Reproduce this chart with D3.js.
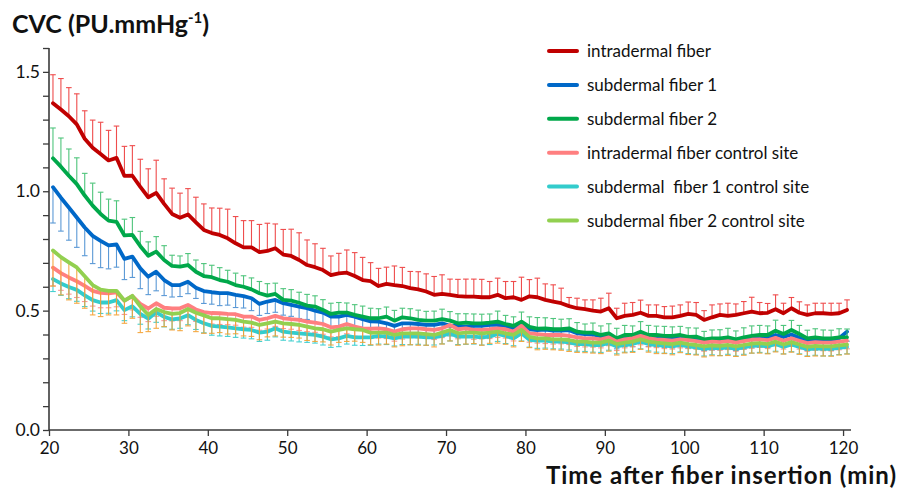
<!DOCTYPE html>
<html><head><meta charset="utf-8">
<script src="https://cdn.jsdelivr.net/npm/d3@7/dist/d3.min.js"></script>
<style>
html,body{margin:0;padding:0;background:#fff;}
svg{display:block;}
text{font-family:"Lato","Open Sans",sans-serif;fill:#111;}
</style></head>
<body>
<svg id="chart" width="899" height="490"></svg>
<script>
// ---------- data ----------
const seriesNames = ["intradermal fiber","subdermal fiber 1","subdermal fiber 2",
  "intradermal fiber control site","subdermal  fiber 1 control site","subdermal fiber 2 control site"];
const xTicks = [20,30,40,50,60,70,80,90,100,110,120];
const yTickLabels = ["0.0","0.5","1.0","1.5"];
const minutes = d3.range(20.5, 121, 1); // one sample per minute

const intradermal = [1.369,1.342,1.314,1.280,1.220,1.182,1.156,1.129,1.140,1.064,
 1.065,1.018,0.975,0.993,0.947,0.905,0.889,0.903,0.870,0.838,
 0.825,0.817,0.803,0.782,0.765,0.765,0.745,0.750,0.761,0.735,
 0.729,0.712,0.691,0.682,0.670,0.649,0.656,0.659,0.645,0.628,
 0.624,0.603,0.612,0.607,0.603,0.594,0.589,0.580,0.566,0.570,
 0.566,0.561,0.559,0.559,0.556,0.556,0.566,0.552,0.556,0.545,
 0.560,0.556,0.545,0.538,0.531,0.519,0.510,0.506,0.500,0.496,
 0.510,0.468,0.478,0.482,0.491,0.478,0.478,0.472,0.472,0.478,
 0.486,0.482,0.461,0.472,0.482,0.478,0.482,0.489,0.496,0.489,
 0.491,0.506,0.489,0.510,0.491,0.482,0.489,0.489,0.486,0.489,0.503];
const intradermalErr = [0.119,0.130,0.120,0.128,0.117,0.116,0.133,0.126,0.133,0.124,
 0.126,0.116,0.119,0.137,0.105,0.108,0.103,0.108,0.105,0.109,
 0.105,0.112,0.122,0.112,0.112,0.112,0.116,0.116,0.102,0.105,
 0.112,0.114,0.105,0.098,0.091,0.080,0.084,0.095,0.098,0.095,
 0.077,0.074,0.070,0.080,0.078,0.070,0.074,0.074,0.077,0.080,
 0.066,0.070,0.073,0.073,0.075,0.066,0.070,0.070,0.066,0.095,
 0.070,0.080,0.067,0.070,0.063,0.036,0.042,0.039,0.045,0.056,
 0.063,0.042,0.053,0.052,0.053,0.046,0.046,0.045,0.047,0.046,
 0.050,0.052,0.039,0.052,0.046,0.053,0.046,0.049,0.060,0.045,
 0.039,0.060,0.042,0.045,0.046,0.042,0.042,0.042,0.045,0.042,0.042];

const subdermal1 = [1.017,0.973,0.932,0.890,0.848,0.813,0.792,0.773,0.777,0.717,
 0.726,0.677,0.642,0.663,0.628,0.607,0.607,0.621,0.596,0.582,
 0.577,0.573,0.573,0.566,0.561,0.552,0.528,0.538,0.545,0.531,
 0.524,0.517,0.510,0.500,0.492,0.475,0.475,0.482,0.475,0.464,
 0.455,0.454,0.447,0.436,0.447,0.447,0.444,0.440,0.440,0.447,
 0.436,0.436,0.433,0.436,0.436,0.440,0.440,0.433,0.426,0.444,
 0.422,0.418,0.420,0.416,0.416,0.418,0.405,0.402,0.400,0.392,
 0.398,0.380,0.390,0.392,0.404,0.392,0.390,0.386,0.386,0.390,
 0.382,0.384,0.372,0.376,0.378,0.380,0.372,0.380,0.384,0.388,
 0.386,0.398,0.390,0.400,0.386,0.372,0.376,0.374,0.372,0.384,0.412];
const subdermal1Err = [0.150,0.140,0.137,0.125,0.118,0.116,0.112,0.098,0.095,0.087,
 0.087,0.085,0.075,0.080,0.065,0.050,0.048,0.050,0.045,0.052,
 0.050,0.052,0.050,0.053,0.050,0.052,0.048,0.050,0.052,0.050,
 0.048,0.050,0.047,0.050,0.048,0.046,0.048,0.045,0.047,0.045,
 0.044,0.043,0.045,0.042,0.044,0.043,0.042,0.044,0.043,0.042,
 0.042,0.044,0.041,0.043,0.042,0.040,0.043,0.041,0.042,0.044,
 0.041,0.043,0.040,0.042,0.041,0.043,0.040,0.042,0.041,0.040,
 0.042,0.040,0.041,0.043,0.040,0.042,0.041,0.040,0.042,0.041,
 0.040,0.042,0.039,0.041,0.040,0.042,0.039,0.041,0.040,0.042,
 0.040,0.041,0.039,0.042,0.040,0.039,0.041,0.040,0.039,0.040,0.040];

const subdermal2 = [1.138,1.103,1.065,1.030,0.982,0.940,0.905,0.877,0.872,0.815,
 0.817,0.770,0.730,0.747,0.712,0.687,0.684,0.691,0.663,0.645,
 0.640,0.628,0.621,0.607,0.600,0.589,0.573,0.563,0.570,0.545,
 0.542,0.533,0.521,0.517,0.503,0.486,0.492,0.492,0.482,0.475,
 0.468,0.468,0.475,0.458,0.472,0.468,0.461,0.458,0.458,0.464,
 0.458,0.447,0.450,0.447,0.447,0.450,0.454,0.444,0.436,0.454,
 0.432,0.425,0.426,0.422,0.422,0.426,0.412,0.408,0.408,0.398,
 0.405,0.384,0.398,0.398,0.412,0.398,0.398,0.394,0.394,0.398,
 0.390,0.391,0.380,0.384,0.384,0.388,0.380,0.388,0.394,0.398,
 0.398,0.416,0.402,0.419,0.402,0.384,0.388,0.384,0.384,0.388,0.388];
const subdermal2Err = [0.127,0.120,0.112,0.110,0.093,0.094,0.091,0.090,0.088,0.068,
 0.073,0.062,0.058,0.063,0.060,0.045,0.045,0.048,0.049,0.052,
 0.050,0.052,0.048,0.050,0.046,0.048,0.049,0.050,0.045,0.047,
 0.046,0.044,0.047,0.045,0.043,0.045,0.042,0.040,0.043,0.044,
 0.042,0.040,0.040,0.043,0.038,0.040,0.041,0.039,0.040,0.042,
 0.038,0.040,0.037,0.039,0.038,0.036,0.044,0.036,0.038,0.040,
 0.042,0.046,0.044,0.045,0.042,0.040,0.038,0.036,0.040,0.038,
 0.040,0.042,0.040,0.038,0.042,0.040,0.037,0.040,0.038,0.036,
 0.038,0.036,0.033,0.035,0.036,0.038,0.035,0.040,0.042,0.040,
 0.038,0.044,0.036,0.040,0.036,0.034,0.036,0.035,0.034,0.036,0.035];

const intradermalCtrl = [0.680,0.657,0.639,0.623,0.604,0.583,0.574,0.572,0.576,0.542,
 0.561,0.528,0.509,0.531,0.512,0.509,0.510,0.524,0.505,0.494,
 0.490,0.489,0.486,0.485,0.475,0.475,0.461,0.468,0.478,0.468,
 0.464,0.461,0.454,0.450,0.444,0.430,0.433,0.444,0.433,0.426,
 0.424,0.426,0.422,0.412,0.422,0.426,0.426,0.422,0.419,0.426,
 0.440,0.422,0.426,0.419,0.419,0.422,0.426,0.422,0.412,0.436,
 0.405,0.402,0.398,0.398,0.398,0.394,0.388,0.384,0.384,0.380,
 0.388,0.370,0.380,0.384,0.394,0.384,0.380,0.377,0.374,0.380,
 0.376,0.372,0.366,0.370,0.368,0.372,0.366,0.372,0.378,0.380,
 0.376,0.386,0.374,0.384,0.374,0.364,0.368,0.366,0.366,0.370,0.374];
const intradermalCtrlErr = [0.077,0.072,0.070,0.068,0.066,0.064,0.062,0.060,0.060,0.058,
 0.058,0.056,0.055,0.055,0.054,0.052,0.052,0.050,0.050,0.048,
 0.046,0.047,0.045,0.046,0.044,0.045,0.043,0.045,0.044,0.043,
 0.042,0.044,0.042,0.041,0.043,0.040,0.042,0.041,0.040,0.042,
 0.040,0.041,0.039,0.040,0.041,0.039,0.040,0.038,0.040,0.039,
 0.038,0.040,0.038,0.039,0.037,0.039,0.038,0.037,0.039,0.038,
 0.037,0.038,0.036,0.038,0.037,0.036,0.038,0.036,0.037,0.036,
 0.035,0.037,0.036,0.035,0.037,0.036,0.035,0.036,0.035,0.036,
 0.035,0.034,0.036,0.035,0.034,0.035,0.036,0.034,0.035,0.034,
 0.035,0.034,0.035,0.034,0.035,0.034,0.033,0.034,0.035,0.034,0.034];

const subdermal1Ctrl = [0.632,0.614,0.599,0.587,0.564,0.544,0.534,0.534,0.544,0.502,
 0.518,0.486,0.466,0.493,0.474,0.463,0.467,0.481,0.461,0.447,
 0.436,0.433,0.430,0.426,0.422,0.419,0.408,0.412,0.426,0.412,
 0.408,0.405,0.402,0.398,0.391,0.380,0.384,0.394,0.388,0.388,
 0.388,0.394,0.391,0.384,0.391,0.391,0.391,0.388,0.388,0.394,
 0.405,0.391,0.391,0.391,0.388,0.391,0.402,0.394,0.384,0.405,
 0.378,0.374,0.374,0.370,0.370,0.367,0.360,0.360,0.356,0.356,
 0.364,0.350,0.356,0.360,0.370,0.360,0.356,0.353,0.350,0.356,
 0.350,0.346,0.340,0.344,0.342,0.346,0.340,0.346,0.352,0.354,
 0.350,0.360,0.348,0.358,0.348,0.338,0.342,0.340,0.340,0.344,0.348];
const subdermal1CtrlErr = [0.052,0.050,0.049,0.048,0.047,0.046,0.046,0.045,0.045,0.044,
 0.044,0.043,0.043,0.042,0.042,0.041,0.041,0.040,0.040,0.040,
 0.039,0.039,0.038,0.038,0.037,0.037,0.037,0.036,0.036,0.036,
 0.035,0.036,0.035,0.034,0.035,0.034,0.035,0.034,0.033,0.034,
 0.033,0.034,0.033,0.032,0.033,0.034,0.032,0.033,0.032,0.033,
 0.032,0.033,0.032,0.031,0.032,0.033,0.031,0.032,0.031,0.032,
 0.031,0.032,0.031,0.030,0.031,0.032,0.030,0.031,0.030,0.031,
 0.030,0.031,0.030,0.031,0.030,0.029,0.030,0.031,0.030,0.029,
 0.030,0.029,0.030,0.029,0.030,0.029,0.030,0.029,0.030,0.029,
 0.029,0.030,0.029,0.030,0.029,0.028,0.029,0.030,0.029,0.028,0.029];

const subdermal2Ctrl = [0.752,0.724,0.702,0.681,0.644,0.607,0.588,0.583,0.583,0.542,
 0.562,0.518,0.482,0.507,0.494,0.486,0.490,0.507,0.491,0.480,
 0.468,0.468,0.464,0.461,0.454,0.450,0.440,0.447,0.454,0.447,
 0.444,0.440,0.433,0.426,0.422,0.412,0.419,0.426,0.422,0.419,
 0.407,0.408,0.408,0.398,0.405,0.405,0.405,0.402,0.398,0.408,
 0.419,0.405,0.408,0.408,0.405,0.408,0.412,0.405,0.398,0.419,
 0.390,0.384,0.384,0.380,0.380,0.377,0.370,0.370,0.366,0.366,
 0.374,0.360,0.366,0.370,0.380,0.370,0.366,0.363,0.360,0.366,
 0.360,0.356,0.350,0.354,0.352,0.356,0.350,0.356,0.362,0.364,
 0.360,0.370,0.358,0.368,0.358,0.348,0.352,0.350,0.350,0.354,0.358];
const subdermal2CtrlErr = [0.149,0.158,0.157,0.150,0.134,0.125,0.113,0.101,0.101,0.095,
 0.094,0.110,0.070,0.081,0.061,0.067,0.074,0.071,0.079,0.075,
 0.063,0.060,0.062,0.058,0.060,0.058,0.062,0.057,0.060,0.058,
 0.056,0.055,0.058,0.055,0.053,0.056,0.052,0.055,0.050,0.052,
 0.050,0.052,0.048,0.050,0.052,0.048,0.050,0.047,0.050,0.048,
 0.046,0.050,0.048,0.046,0.050,0.045,0.048,0.046,0.050,0.048,
 0.045,0.048,0.046,0.044,0.046,0.048,0.045,0.046,0.044,0.046,
 0.044,0.046,0.043,0.045,0.042,0.044,0.046,0.043,0.045,0.042,
 0.044,0.042,0.044,0.043,0.041,0.044,0.042,0.043,0.040,0.042,
 0.041,0.043,0.040,0.042,0.041,0.040,0.042,0.040,0.041,0.040,0.040];

// ---------- styling ----------
const lineColors = ["#c00000","#0068c8","#00a84a","#ff7f80","#33cccc","#92d050"];
const barColors  = ["#ee3a3a","#4a8fd2","#3cbf6e","#ff8a8a","#33cccc","#f5a030"];
const barDir     = [1,-1,1,-1,-1,-1];   // error bars drawn up (+) or down (-)

const values = [intradermal, subdermal1, subdermal2, intradermalCtrl, subdermal1Ctrl, subdermal2Ctrl];
const errors = [intradermalErr, subdermal1Err, subdermal2Err, intradermalCtrlErr, subdermal1CtrlErr, subdermal2CtrlErr];

const svg = d3.select("#chart");
const x = d3.scaleLinear().domain([20, 121]).range([49, 851]);
const y = d3.scaleLinear().domain([0, 1.6]).range([430, 48]);

// series: error bars then line, in legend order
values.forEach((vals, s) => {
  const g = svg.append("g");
  const err = errors[s];
  const dir = barDir[s];
  const bars = g.append("g").attr("stroke", barColors[s]).attr("stroke-width", 1.1).attr("opacity", 0.9);
  vals.forEach((v, i) => {
    const xx = x(minutes[i]);
    const yEnd = y(v + dir * err[i]);
    bars.append("line").attr("x1", xx).attr("x2", xx).attr("y1", y(v)).attr("y2", yEnd);
    bars.append("line").attr("x1", xx - 2.8).attr("x2", xx + 2.8).attr("y1", yEnd).attr("y2", yEnd);
  });
  const line = d3.line().x((d, i) => x(minutes[i])).y(d => y(d));
  g.append("path").datum(vals).attr("d", line).attr("fill", "none")
    .attr("stroke", lineColors[s]).attr("stroke-width", 3.8)
    .attr("stroke-linejoin", "round").attr("stroke-linecap", "round");
});

// axes
const axisColor = "#3a3a3a";
const yAxis = d3.axisLeft(y).tickValues(d3.range(0, 1.6001, 0.1)).tickSize(6)
  .tickFormat(d => { const k = Math.round(d * 10); return k % 5 === 0 ? yTickLabels[k / 5] : ""; });
const gy = svg.append("g").attr("transform", "translate(49,0)").call(yAxis);
gy.select(".domain").attr("stroke", axisColor).attr("stroke-width", 1.6).attr("d", `M0,${y(0)}V${y(1.6)}`);
gy.selectAll(".tick line").attr("stroke", axisColor).attr("stroke-width", 1.3);
gy.selectAll(".tick text").attr("x", -9).style("font-size", "17.5px").style("font-family", "Lato, 'Open Sans', sans-serif").attr("fill", "#111");

const xAxis = d3.axisBottom(x).tickValues(xTicks).tickSize(6).tickFormat(d => String(d));
const gx = svg.append("g").attr("transform", `translate(0,${y(0)})`).call(xAxis);
gx.select(".domain").attr("stroke", axisColor).attr("stroke-width", 1.6).attr("d", `M49,0H${x(121)}`);
gx.selectAll(".tick line").attr("stroke", axisColor).attr("stroke-width", 1.3);
gx.selectAll(".tick text").attr("y", 12).style("font-size", "17px").style("font-family", "Lato, 'Open Sans', sans-serif").attr("fill", "#111");

// titles
const t = svg.append("text").attr("x", 12).attr("y", 33).style("font-size", "25px").style("font-weight", "bold");
t.append("tspan").text("CVC (PU.mmHg");
t.append("tspan").attr("dy", -10).style("font-size", "15px").text("-1");
t.append("tspan").attr("dy", 10).text(")");

svg.append("text").attr("x", 896).attr("y", 484).attr("text-anchor", "end")
  .attr("textLength", 350).attr("lengthAdjust", "spacing")
  .style("font-size", "24px").style("font-weight", "bold").text("Time after fiber insertion (min)");

// legend
const leg = svg.append("g");
seriesNames.forEach((name, s) => {
  const ly = 51 + s * 33.9;
  leg.append("line").attr("x1", 549).attr("x2", 577).attr("y1", ly).attr("y2", ly)
    .attr("stroke", lineColors[s]).attr("stroke-width", 4).attr("stroke-linecap", "round");
  leg.append("text").attr("x", 587).attr("y", ly + 6).style("font-size", "17px")
    .style("white-space", "pre").attr("xml:space", "preserve").text(name);
});
</script>
</body></html>
